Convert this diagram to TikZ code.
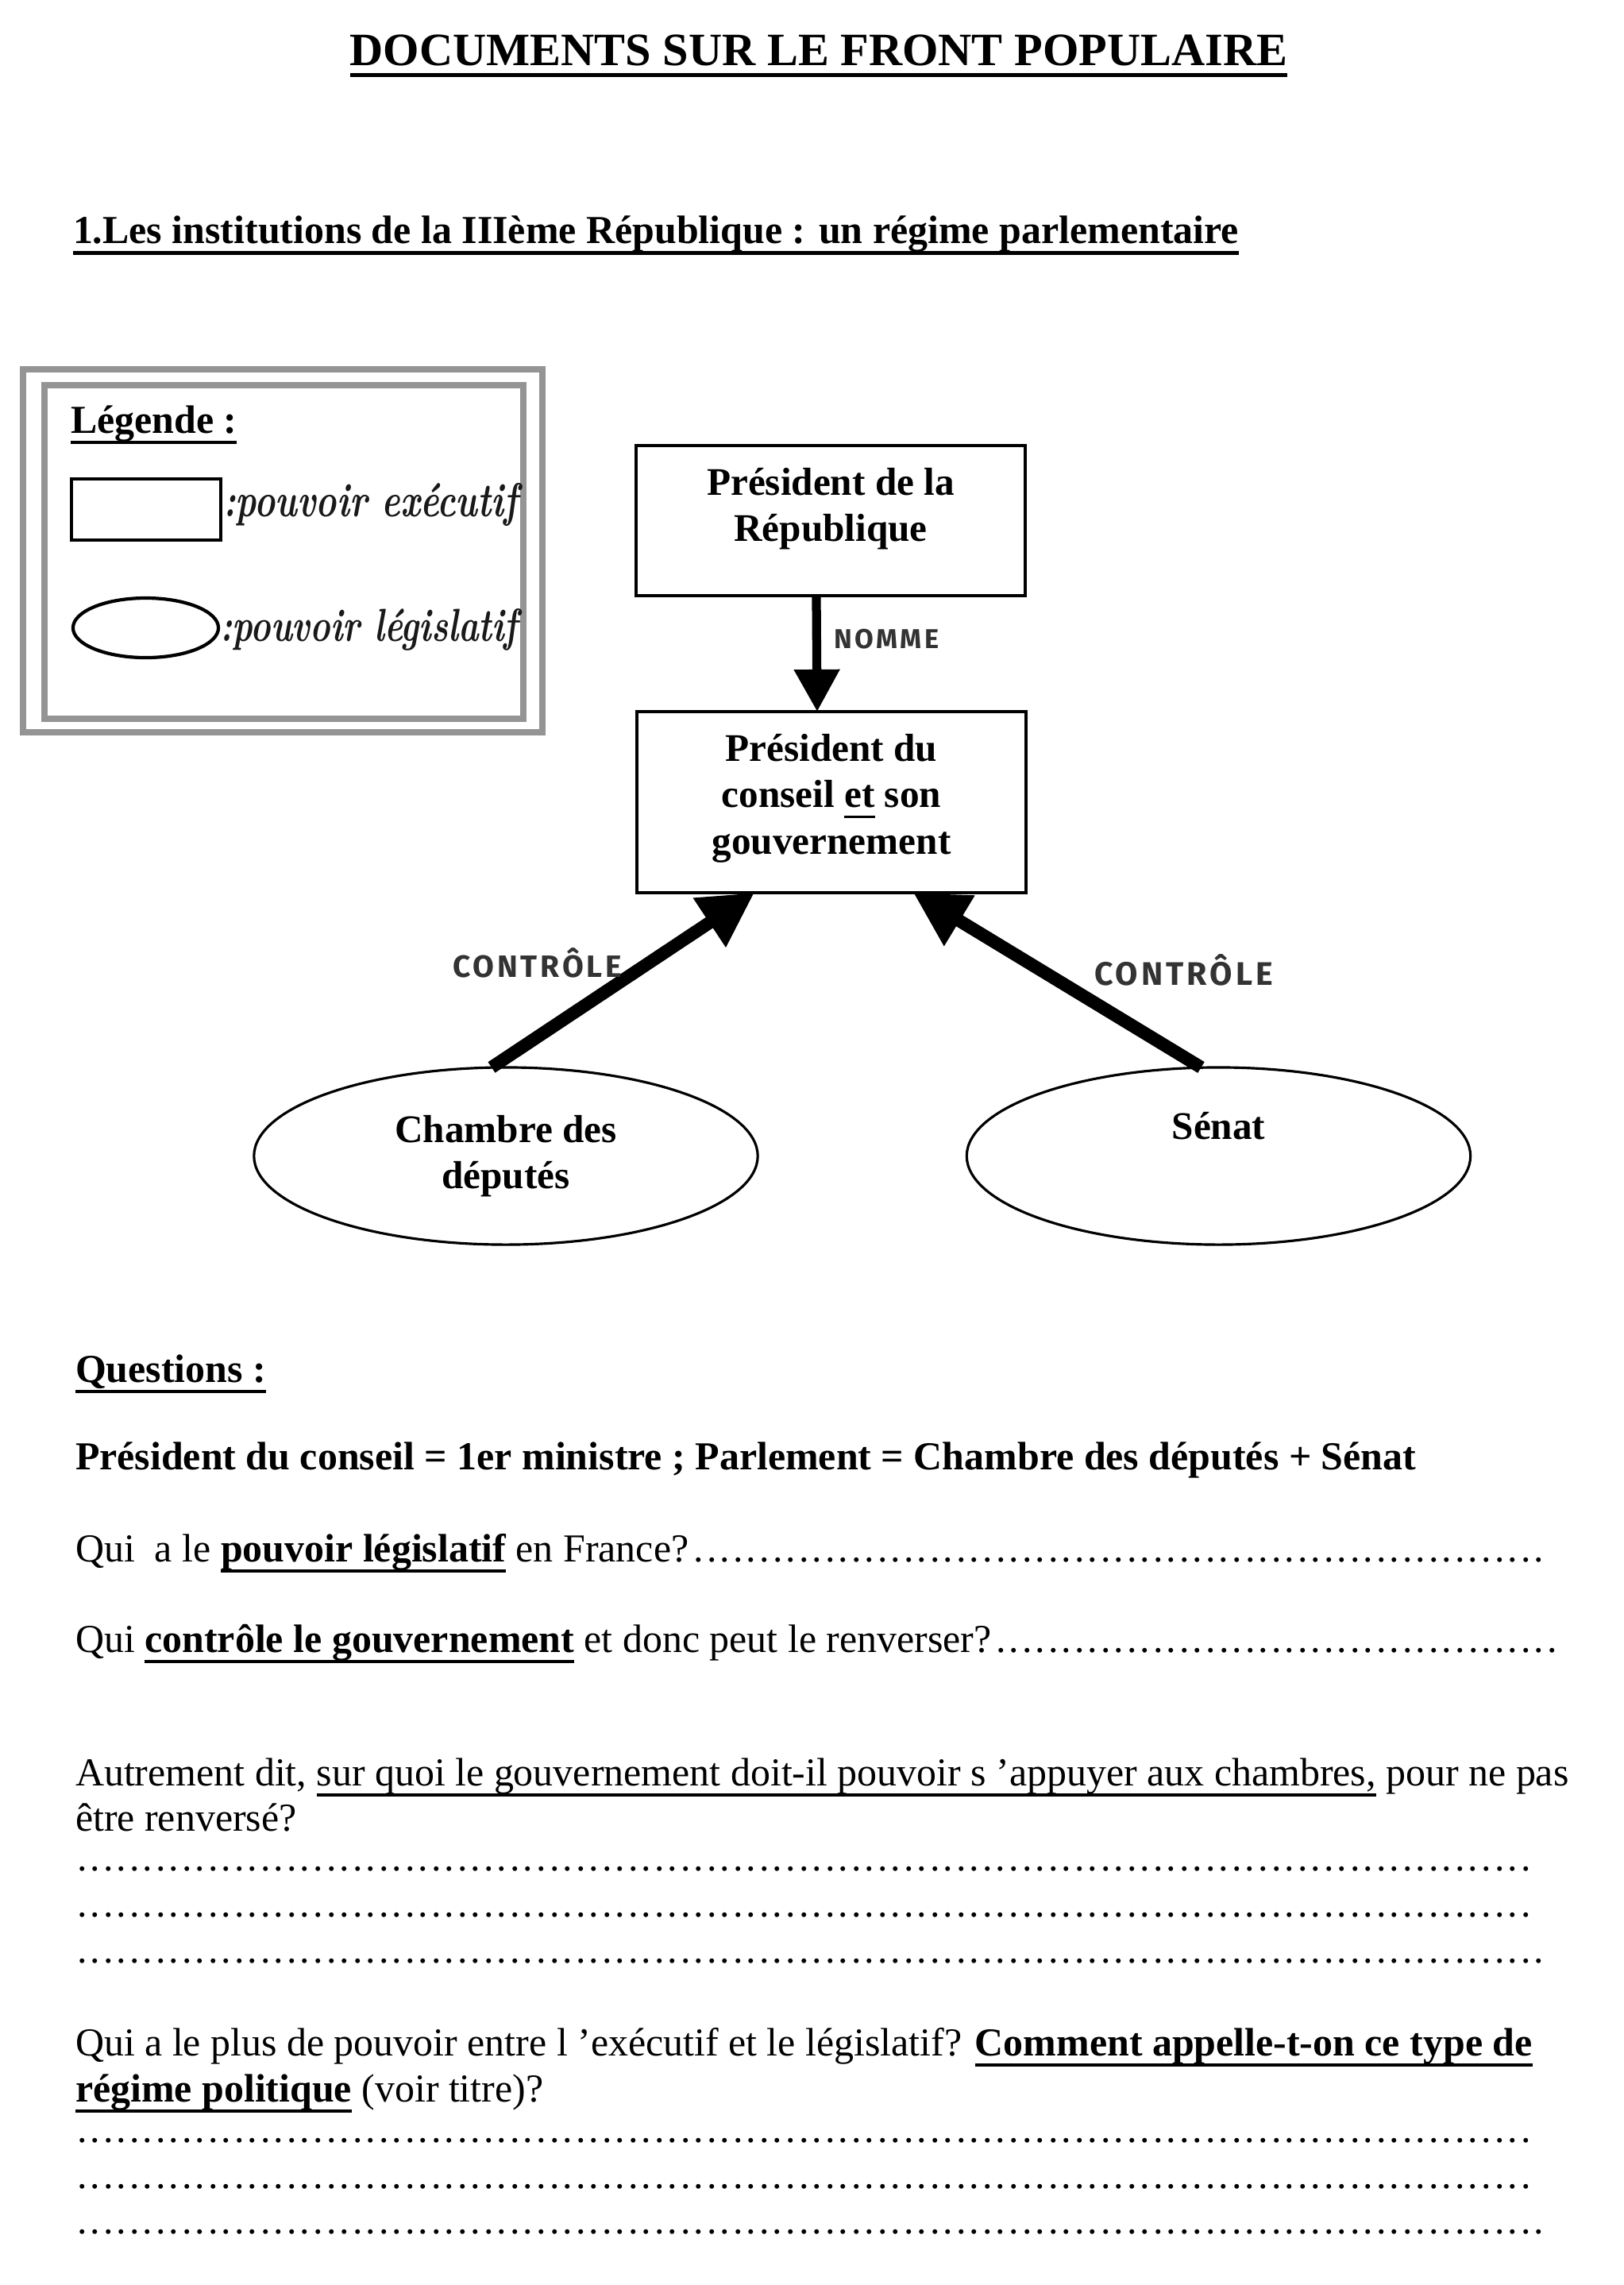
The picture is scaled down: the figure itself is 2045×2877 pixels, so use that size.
\documentclass[tikz,border=0pt]{standalone}
\usepackage{fontspec}
\setmainfont{Liberation Serif}
\newfontfamily\handfont{Latin Modern Roman}
\newfontfamily\capsfont[LetterSpace=10]{Fira Sans}
\usepackage{graphicx}
\usetikzlibrary{arrows.meta,shapes.geometric}
\newcommand\ulx[2]{{\setbox0=\hbox{#2}\rlap{\vrule height -2.8pt depth \dimexpr2.8pt+#1\relax width \wd0}\box0}}
\newcommand\myul[1]{\ulx{1.1pt}{#1}}
\newcommand\dotsline{\leaders\hbox to 4.7pt{\hss.\hss}\hfill}
\newcommand\bodyfont{\fontsize{14.2}{16.8}\selectfont}
\newcommand\boxfont{\fontsize{14}{16.6}\selectfont}
\newcommand\capsnote[2]{\resizebox{#1}{!}{\capsfont\bfseries #2}}
\newcommand\scriptnote[2]{\resizebox{#1}{!}{\scalebox{1}[1.35]{\handfont\bfseries\itshape #2}}}
\begin{document}
\begin{tikzpicture}[x=0.01cm,y=-0.01cm,
  every node/.style={inner sep=0pt, outer sep=0pt},
  body/.style={font=\bodyfont, anchor=base west},
  bodybold/.style={font=\bodyfont\bfseries, anchor=base west},
  box/.style={draw, line width=1pt, minimum width=4.9cm},
  boxtext/.style={align=center, font=\boxfont\bfseries},
  chamber/.style={draw, ellipse, line width=0.9pt, minimum width=6.34cm, minimum height=2.23cm, align=center, font=\boxfont\bfseries},
  hand/.style={font=\fontsize{9}{10}\selectfont, text=black!80, anchor=base west},
  handscript/.style={anchor=base west, text=black!90},
  thickarrow/.style={line width=3.2pt, -{Triangle[length=0.53cm,width=0.55cm]}},
  diagarrow/.style={line width=4.6pt, -{Triangle[length=0.68cm,width=0.7cm]}},
  legendframe/.style={draw=black!42, line width=2.4pt},
]
\fill[white] (0,0) rectangle (2045,2877);
\useasboundingbox (0,0) rectangle (2045,2877);

% titles
\node[bodybold, anchor=base, font=\fontsize{16.6}{19}\selectfont\bfseries] (title) at (1031,82) {\ulx{1.6pt}{DOCUMENTS SUR LE FRONT POPULAIRE}};
\node[bodybold] (head) at (92,306) {\ulx{1.4pt}{1.Les institutions de la IIIème République : un régime parlementaire}};

% legend
\draw[legendframe] (29,465) rectangle (683,922);
\draw[legendframe] (56,485) rectangle (659,905);
\node[bodybold] (leg) at (89,545) {\ulx{1.2pt}{Légende :}};
\node[draw, line width=1.2pt, minimum width=1.88cm, minimum height=0.77cm] (lrect) at (184,641.5) {};
\node[draw, ellipse, line width=1.2pt, minimum width=1.83cm, minimum height=0.75cm] (lell) at (183.5,790.5) {};
\node[handscript] (lexe) at (281,650) {\scriptnote{3.71cm}{:pouvoir exécutif}};
\node[handscript] (lleg) at (277,807) {\scriptnote{3.75cm}{:pouvoir législatif}};

% diagram
\node[box, minimum height=1.89cm] (b1) at (1046,655.5) {};
\node[boxtext] (b1t) at ([yshift=0.15cm]b1.center) {Président de la\\République};
\node[box, minimum height=2.28cm] (b2) at (1047,1010) {};
\node[boxtext] (b2t) at ([yshift=0.05cm]b2.center) {Président du\\conseil \myul{et} son\\gouvernement};
\node[chamber] (ch) at (637,1455.5) {Chambre des\\députés};
\node[chamber] (sn) at (1534.5,1455.5) {Sénat\\\strut};

\draw[thickarrow] ([xshift=-0.18cm]b1.south) -- ([xshift=-0.18cm]b2.north);
\node[hand] (nomme) at (1050,816) {\capsnote{1.32cm}{NOMME}};
\draw[diagarrow] ([xshift=-0.18cm]ch.north) -- ([xshift=-0.97cm]b2.south);
\draw[diagarrow] ([xshift=-0.22cm]sn.north) -- ([xshift=1.03cm]b2.south);
\node[hand] (c1) at (570,1230) {\capsnote{2.13cm}{CONTRÔLE}};
\node[hand] (c2) at (1378,1240) {\capsnote{2.25cm}{CONTRÔLE}};

% questions
\node[bodybold] (qs) at (95,1740) {\ulx{1.2pt}{Questions :}};
\node[bodybold] (def) at (95,1850) {Président du conseil = 1er ministre ; Parlement = Chambre des députés + Sénat};
\node[body] (q1) at (95,1966) {\hbox to 18.64cm{Qui\ \ a le \textbf{\myul{pouvoir législatif}} en France?\dotsline}};
\node[body] (q2) at (95,2080) {\hbox to 18.77cm{Qui \textbf{\myul{contrôle le gouvernement}} et donc peut le renverser?\dotsline}};
\node[body] (q3a) at (95,2248) {Autrement dit, \myul{sur quoi le gouvernement doit-il pouvoir s ’appuyer aux chambres,} pour ne pas};
\node[body] (q3b) at (95,2305) {être renversé?};
\node[body] (d1) at (95,2355) {\hbox to 18.44cm{\dotsline}};
\node[body] (d2) at (95,2413) {\hbox to 18.44cm{\dotsline}};
\node[body] (d3) at (95,2471) {\hbox to 18.55cm{\dotsline}};
\node[body] (q4a) at (95,2588) {Qui a le plus de pouvoir entre l ’exécutif et le législatif? \textbf{\myul{Comment appelle-t-on ce type de}}};
\node[body] (q4b) at (95,2646) {\textbf{\myul{régime politique}} (voir titre)?};
\node[body] (d4) at (95,2697) {\hbox to 18.45cm{\dotsline}};
\node[body] (d5) at (95,2755) {\hbox to 18.45cm{\dotsline}};
\node[body] (d6) at (95,2812) {\hbox to 18.57cm{\dotsline}};
\end{tikzpicture}
\end{document}
